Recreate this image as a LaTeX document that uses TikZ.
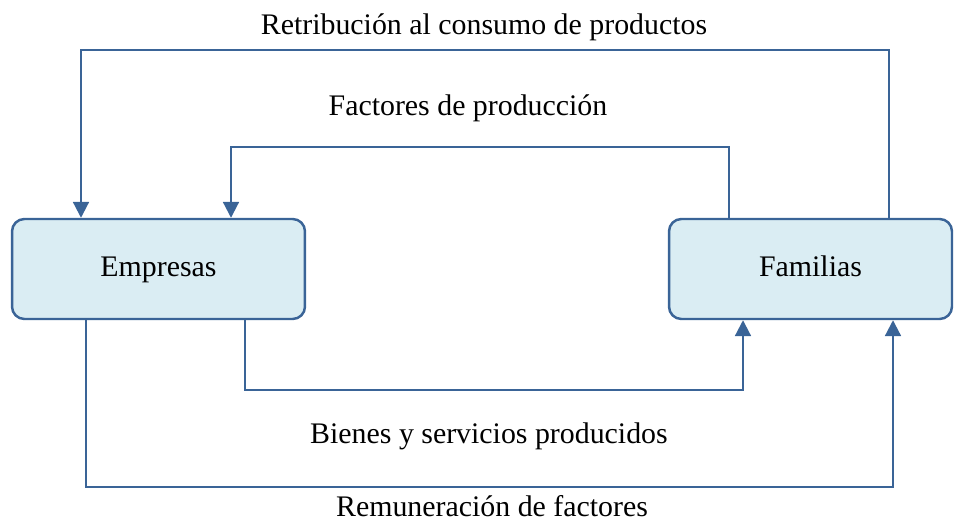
\documentclass[tikz,border=0pt]{standalone}
\usepackage{fontspec}
\setmainfont{Liberation Serif}
\usetikzlibrary{arrows.meta}
\definecolor{flowblue}{HTML}{3A6497}
\definecolor{boxfill}{HTML}{DAEDF3}
\tikzset{
  agent/.style={draw=flowblue, fill=boxfill, line width=1.4pt, rounded corners=7pt,
    minimum height=2cm, inner sep=0pt, text height=12pt, text depth=4pt,
    font=\fontsize{17}{20}\selectfont},
  flow/.style={draw=flowblue, line width=1.2pt, -{Triangle[width=9pt,length=9pt]}},
  lbl/.style={font=\fontsize{17}{20}\selectfont, inner sep=0pt, text height=12pt, text depth=4pt}
}
\begin{document}
\begin{tikzpicture}[x=0.02cm, y=-0.02cm]
\useasboundingbox (0,0) rectangle (954,524);
\node[agent, minimum width=5.86cm] (emp) at (158.5,269) {Empresas}; % Empresas
\node[agent, minimum width=5.66cm] (fam) at (810.5,269) {Familias}; % Familias
\coordinate (r1) at (889,50);  \coordinate (r2) at (81,50);   % Retribucion
\coordinate (f1) at (729,147); \coordinate (f2) at (231,147); % Factores
\coordinate (b1) at (245,390); \coordinate (b2) at (743,390); % Bienes
\coordinate (m1) at (86,487);  \coordinate (m2) at (893,487); % Remuneracion
\draw[flow] (fam.north -| r1) -- (r1) -- (r2) -- (emp.north -| r2); % Retribucion
\draw[flow] (fam.north -| f1) -- (f1) -- (f2) -- (emp.north -| f2); % Factores
\draw[flow] (emp.south -| b1) -- (b1) -- (b2) -- (fam.south -| b2); % Bienes
\draw[flow] (emp.south -| m1) -- (m1) -- (m2) -- (fam.south -| m2); % Remuneracion
\node[lbl] (lr) at (484,27) {Retribución al consumo de productos}; % Retribucion
\node[lbl] (lf) at (468,108) {Factores de producción}; % Factores
\node[lbl] (lb) at (489,436) {Bienes y servicios producidos}; % Bienes
\node[lbl] (lm) at (492,509) {Remuneración de factores}; % Remuneracion
\end{tikzpicture}
\end{document}
